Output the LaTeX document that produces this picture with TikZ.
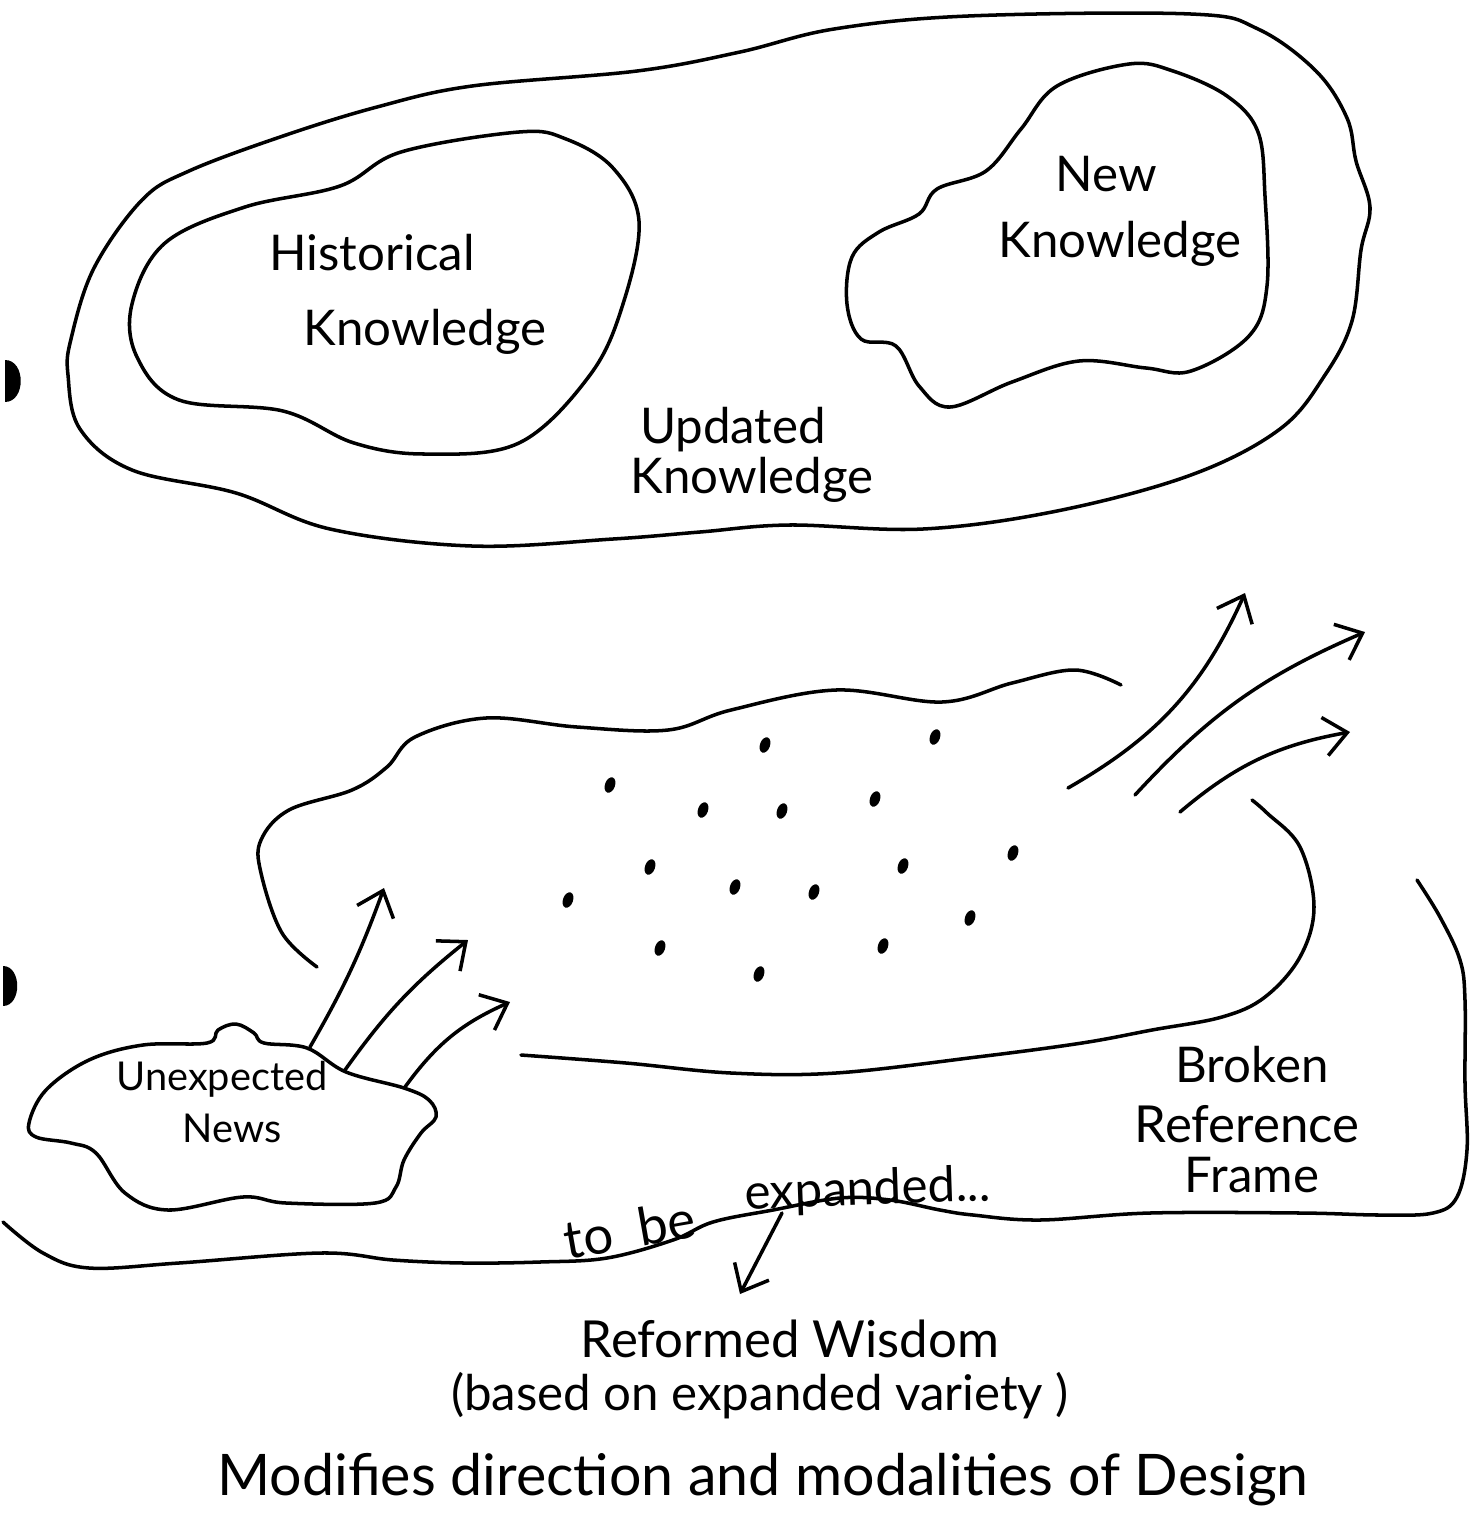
\documentclass[tikz,border=0pt]{standalone}
\usepackage{fontspec}
\setmainfont{Lato}
\usetikzlibrary{arrows.meta}
\begin{document}
\begin{tikzpicture}[x=0.01cm,y=-0.01cm,
  curve/.style={line width=1pt,line cap=round,line join=round},
  arr/.style={curve,-{Straight Barb[length=6.5pt,width=11pt]}},
  lbl/.style={anchor=base,inner sep=0pt,font=\fontsize{14}{16}\selectfont},
  smalllbl/.style={lbl,font=\fontsize{11.3}{13}\selectfont}]
\useasboundingbox (0,0) rectangle (1480,1517);
\fill (5,360) .. controls (26,360) and (26,402) .. (5,402) -- cycle;
\fill (3,966) .. controls (22,966) and (22,1006) .. (3,1006) -- cycle;
\draw[curve] plot[smooth cycle,tension=0.6] coordinates {(68,375) (71,339) (94,268) (142,200) (189,171) (283,136) (377,107) (472,86) (637,71) (740,52) (834,29) (968,16) (1191,14) (1258,29) (1316,71) (1347,118) (1356,161) (1370,207) (1361,250) (1352,321) (1325,375) (1280,429) (1191,475) (1057,511) (923,529) (789,525) (700,532) (613,539) (472,546) (330,529) (236,493) (132,470) (80,429)};
\draw[curve] plot[smooth cycle,tension=0.6] coordinates {(519,132) (566,139) (613,168) (639,221) (623,304) (590,375) (519,443) (425,454) (354,443) (283,411) (179,400) (137,357) (132,304) (165,243) (245,207) (340,186) (401,152)};
\draw[curve] plot[smooth cycle,tension=0.6] coordinates {(1129,64) (1173,71) (1227,96) (1258,132) (1265,196) (1267,286) (1249,336) (1191,371) (1146,368) (1079,361) (1012,382) (950,407) (919,386) (896,346) (861,339) (847,304) (852,257) (879,232) (919,214) (937,189) (986,171) (1021,129) (1057,86)};
\node[lbl] (hist) at (372,270) {Historical};
\node[lbl] (histk) at (425,345) {Knowledge};
\node[lbl] (new) at (1106,191) {New};
\node[lbl] (newk) at (1120,257) {Knowledge};
\node[lbl] (upd) at (733,443) {Updated};
\node[lbl] (updk) at (752,493) {Knowledge};
\draw[curve] plot[smooth,tension=0.6] coordinates {(317,967) (282,933) (261,873) (261,840) (289,810) (352,790) (387,767) (415,737) (486,718) (577,727) (668,730) (731,710) (836,690) (942,702) (1012,683) (1075,670) (1121,685)};
\draw[curve] plot[smooth,tension=0.6] coordinates {(1252,800) (1267,813) (1300,847) (1314,907) (1300,957) (1265,997) (1222,1017) (1152,1030) (1082,1043) (977,1057) (836,1073) (731,1073) (626,1063) (521,1055)};
\draw[curve] plot[smooth,tension=0.6] coordinates {(1417,880) (1440,917) (1460,960) (1465,1000) (1465,1083) (1467,1150) (1457,1197) (1433,1213) (1380,1215) (1300,1213) (1150,1213) (1040,1220) (973,1215) (940,1210) (890,1200) (840,1198) (773,1210) (713,1222) (673,1240) (607,1258) (540,1262) (464,1263) (393,1260) (321,1253) (179,1263) (89,1268) (43,1253) (3,1222)};
\draw[curve] plot[smooth cycle,tension=0.6] coordinates {(29,1123) (46,1090) (89,1060) (143,1045) (207,1043) (218,1030) (236,1024) (254,1033) (264,1043) (307,1048) (346,1072) (404,1088) (429,1100) (436,1117) (421,1133) (404,1160) (396,1187) (375,1203) (286,1203) (243,1197) (168,1210) (125,1193) (96,1153) (71,1143) (36,1137)};
\foreach \dx/\dy in {765/745,935/737,610/785,703/810,782/811,875/799,650/867,735/887,814/892,903/866,1013/853,568/900,660/948,883/946,970/918,759/974}
  \fill (\dx,\dy) circle[x radius=5,y radius=8,rotate=-20];
\coordinate (ua) at (310,1047);
\coordinate (ub) at (345,1070);
\coordinate (uc) at (405,1087);
\coordinate (ta) at (384,888);
\coordinate (tb) at (468,940);
\coordinate (tc) at (510,1002);
\draw[arr] (ua) to[bend right=5] (ta);
\draw[arr] (ub) to[bend left=8] (tb);
\draw[arr] (uc) to[bend left=15] (tc);
\coordinate (ra) at (1068,788);
\coordinate (rb) at (1135,795);
\coordinate (rc) at (1180,812);
\coordinate (sa) at (1245,593);
\coordinate (sb) at (1365,632);
\coordinate (sc) at (1350,732);
\draw[arr] (ra) to[bend right=18] (sa);
\draw[arr] (rb) to[bend left=12] (sb);
\draw[arr] (rc) to[bend left=15] (sc);
\node[smalllbl] (unexp) at (222,1090) {Unexpected};
\node[smalllbl] (news) at (232,1142) {News};
\node[lbl] (broken) at (1252,1082) {Broken};
\node[lbl,font=\fontsize{14.5}{16}\selectfont] (refer) at (1247,1142) {Reference};
\node[lbl] (frame) at (1252,1192) {Frame};
\node[lbl,rotate=10,font=\fontsize{15}{17}\selectfont] (tobe) at (633,1248) {to\hspace{0.5em}be};
\node[lbl,rotate=2] (expand) at (868,1205) {expanded...};
\coordinate (ws) at (782,1213);
\coordinate (we) at (740,1294);
\node[lbl,font=\fontsize{14.5}{16}\selectfont] (wisdom) at (790,1357) {Reformed Wisdom};
\node[lbl] (based) at (760,1410) {(based on expanded variety )};
\node[lbl,font=\fontsize{16.3}{18}\selectfont] (design) at (763,1495) {Modifies direction and modalities of Design};
\draw[arr] (ws) -- (we);
\end{tikzpicture}
\end{document}
